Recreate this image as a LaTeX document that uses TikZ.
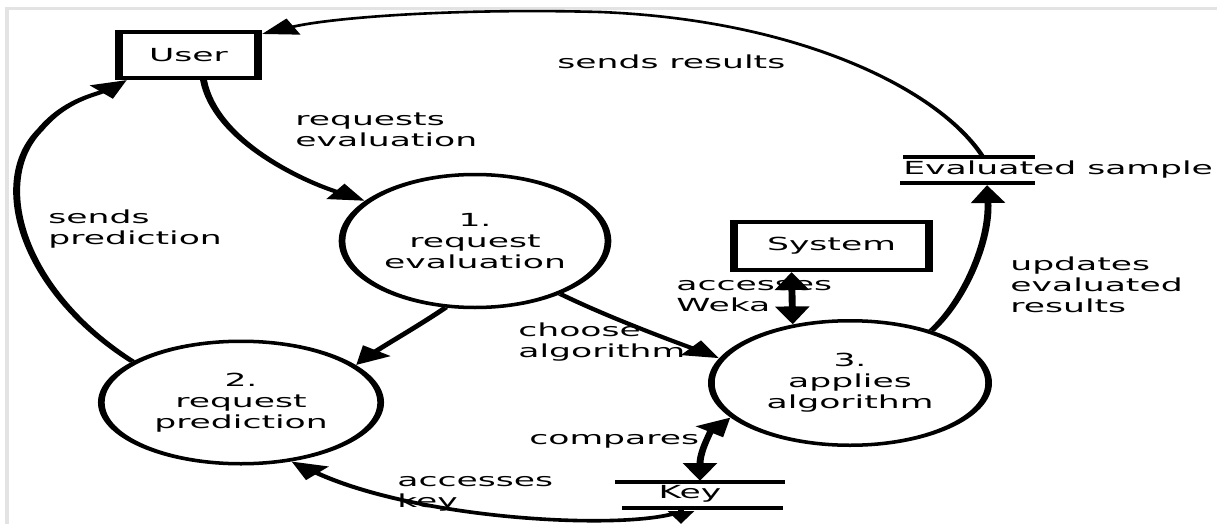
\documentclass[tikz,border=0pt]{standalone}
\usepackage{fontspec}
\setmainfont{DejaVu Sans}
\usetikzlibrary{shapes.geometric,arrows.meta,calc}
\tikzset{
  lab/.style={font=\fontsize{18}{21}\selectfont, inner sep=0pt},
  entity/.style={draw, line width=4pt, lab, minimum height=46pt},
  proc/.style={draw, ellipse, line width=3.5pt, lab, align=center},
  lbl/.style={lab, anchor=west, align=left},
  storeline/.style={line width=3.8pt},
  dfd/.tip={Triangle[length=18pt,width=17pt]},
  flow/.style={line width=3.6pt, -dfd},
  dflow/.style={line width=3.6pt, dfd-dfd},
}
\begin{document}
\begin{tikzpicture}[x=1pt,y=-1pt]
\useasboundingbox (0,0) rectangle (1217,524);
\fill[white] (0,0) rectangle (1217,524);
\draw[gray!22, line width=3.5pt] (7,524) -- (7,8.5) -- (1217,8.5);
\begin{scope}[x=0.520833pt, y=-1pt, transform canvas={xscale=1.92}]
% entities
\node[entity, minimum width=72.6pt] (user) at (188.5,55) {User};
\node[entity, minimum width=101.7pt, minimum height=48pt] (sys) at (831.5,246) {System};
% processes
\node[proc, minimum width=138.5pt, minimum height=133pt] (p1) at (475,241) {1.\\request\\evaluation};
\node[proc, minimum width=145.5pt, minimum height=122.5pt] (p2) at (241,402.5) {2.\\request\\prediction};
\node[proc, minimum width=144.4pt, minimum height=124.5pt] (p3) at (850,383) {3.\\applies\\algorithm};
% data stores
\node[lab, anchor=west] (es) at (903,170) {Evaluated sample};
\draw[storeline] (903,157) -- (1035,157);
\draw[storeline] (900,183) -- (1035,183);
\coordinate (esT) at (983,157);
\coordinate (esB) at (987,185);
\node[lab] (key) at (690,494) {Key};
\draw[storeline] (615,482) -- (785,482);
\draw[storeline] (622,508) -- (783,508);
\coordinate (keyT) at (700,481);
\coordinate (keyB) at (681,508);
\coordinate (keyX) at (681,524);
\coordinate (keyC) at (676,513);
% labels
\node[lbl] (l1) at (557,62) {sends results};
\node[lbl] (l2) at (295,130) {requests\\evaluation};
\node[lbl] (l3) at (48,229) {sends\\prediction};
\node[lbl] (l4) at (676,296) {accesses\\Weka};
\node[lbl] (l5) at (1010,285) {updates\\evaluated\\results};
\node[lbl] (l6) at (518,342) {choose\\algorithm};
\node[lbl] (l7) at (529,441) {compares};
\node[lbl] (l8) at (397,494) {accesses\\key};
% connectors
\draw[line width=2.6pt, -dfd] (esT) .. controls (940,90) and (800,20) .. (600,12) .. controls (450,8) and (330,18) .. ($(user.north east)+(0,4)$);
\draw[flow] ($(user.south)+(15,0)$) .. controls (215,140) and (300,180) .. (p1.145);
\draw[flow] (p2.144) .. controls (20,290) and (-10,180) .. (40,130) .. controls (65,100) and (95,95) .. ($(user.south west)+(12,0)$);
\draw[flow] (p1.257) .. controls (420,325) and (385,345) .. (p2.32);
\draw[flow] (p1.-50) .. controls (610,318) and (670,340) .. (p3.160);
\draw[dflow] ($(sys.south)+(-40,0)$) -- (p3.117);
\draw[flow] (p3.51) .. controls (965,300) and (990,240) .. (esB);
\draw[dflow] (p3.209) .. controls (712,430) and (700,450) .. (keyT);
\draw[line width=3pt, -{Triangle[length=13pt,width=13pt]}] (keyB) -- (keyX);
\draw[flow] (keyC) .. controls (620,530) and (420,520) .. (p2.-66);
\end{scope}
\end{tikzpicture}
\end{document}
